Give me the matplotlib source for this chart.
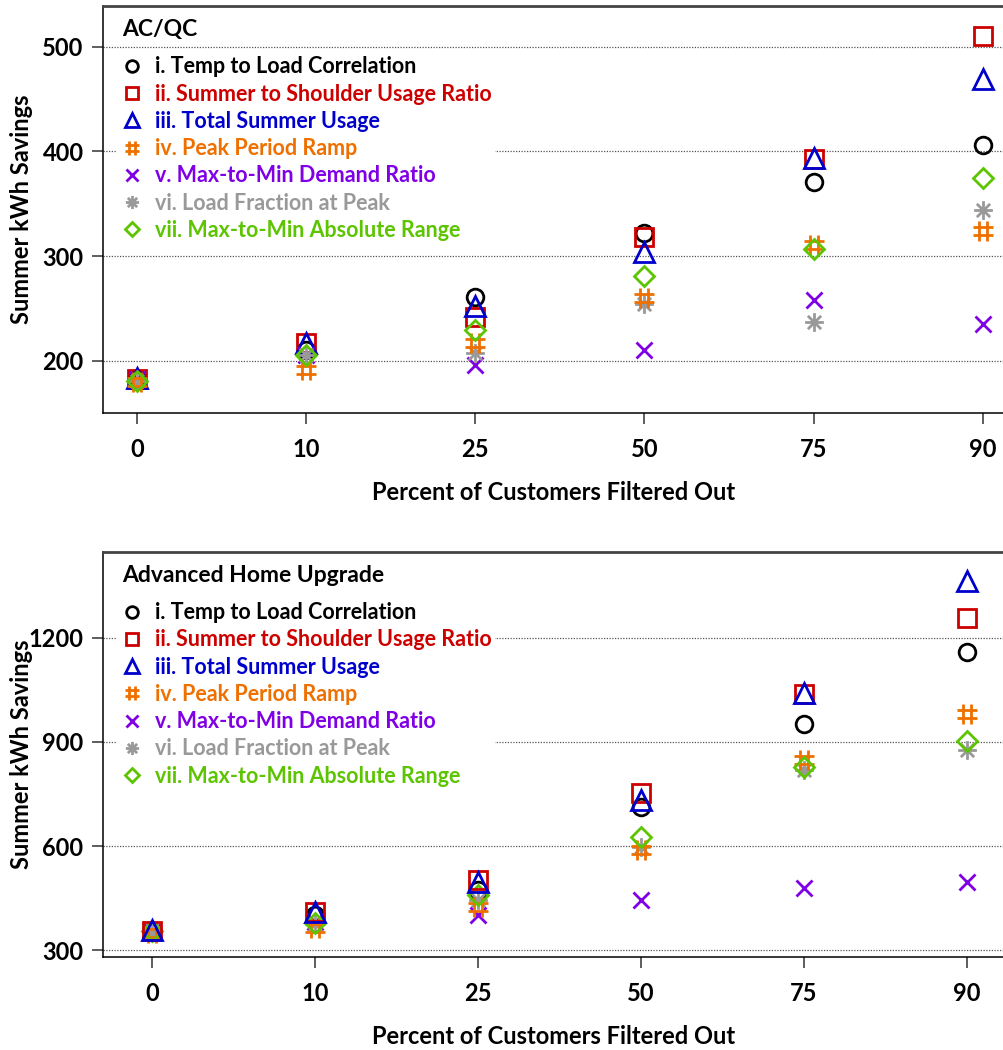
import numpy as np
import matplotlib
matplotlib.use('Agg')
import matplotlib.pyplot as plt
from matplotlib.path import Path

plt.rcParams['font.family'] = ['Lato', 'DejaVu Sans']
plt.rcParams['font.weight'] = 'bold'
plt.rcParams['axes.labelweight'] = 'bold'

# categories on the x axis
pct_labels = ['0', '10', '25', '50', '75', '90']

series_names = ['i. Temp to Load Correlation',
                'ii. Summer to Shoulder Usage Ratio',
                'iii. Total Summer Usage',
                'iv. Peak Period Ramp',
                'v. Max-to-Min Demand Ratio',
                'vi. Load Fraction at Peak',
                'vii. Max-to-Min Absolute Range']

# AC/QC  (summer kWh savings)
acqc_i = [182, 210, 261, 322, 371, 406]
acqc_ii = [182, 217, 242, 318, 393, 510]
acqc_iii = [183, 217, 252, 304, 394, 469]
acqc_iv = [180, 191, 217, 260, 311, 324]
acqc_v = [182, 205, 196, 210, 258, 235]
acqc_vi = [181, 205, 207, 254, 237, 344]
acqc_vii = [181, 205, 229, 281, 307, 375]

# Advanced Home Upgrade
ahu_i = [352, 400, 473, 712, 952, 1160]
ahu_ii = [355, 410, 502, 753, 1038, 1258]
ahu_iii = [358, 410, 496, 733, 1041, 1365]
ahu_iv = [350, 363, 424, 588, 848, 981]
ahu_v = [352, 380, 401, 444, 479, 496]
ahu_vi = [352, 375, 444, 597, 819, 877]
ahu_vii = [354, 378, 459, 626, 828, 903]

colors = ['black', '#cd0000', '#0000cd', '#ee7000', '#8000e6', '#999999', '#5cc400']

# hash (#) and asterisk markers like R's pch 35 / pch 8
hash_path = Path([(-0.22, -0.5), (-0.22, 0.5), (0.22, -0.5), (0.22, 0.5),
                  (-0.5, -0.2), (0.5, -0.2), (-0.5, 0.2), (0.5, 0.2)],
                 [Path.MOVETO, Path.LINETO] * 4)
d = 0.5 / np.sqrt(2)
star_path = Path([(0, -0.5), (0, 0.5), (-0.5, 0), (0.5, 0),
                  (-d, -d), (d, d), (-d, d), (d, -d)],
                 [Path.MOVETO, Path.LINETO] * 4)

markers = ['o', 's', '^', hash_path, 'x', star_path, 'D']
msizes = [12, 12.5, 15, 14, 11.5, 13.5, 10]

fig = plt.figure(figsize=(10.04, 10.5), dpi=100)


def panel(ax, data, order, title, ylim, yticks, xlim):
    handles = [None] * 7
    x = np.arange(len(pct_labels))
    for z, k in enumerate(order):
        h, = ax.plot(x, data[k], linestyle='none', marker=markers[k],
                     ms=msizes[k], mfc='none', mec=colors[k], mew=2.0,
                     zorder=3 + z)
        handles[k] = h
    ax.set_xlim(*xlim)
    ax.set_ylim(*ylim)
    ax.set_xticks(x)
    ax.set_xticklabels(pct_labels, fontweight='bold')
    ax.set_yticks(yticks)
    ax.set_yticklabels([str(t) for t in yticks], fontweight='bold')
    for t in yticks:
        ax.axhline(t, color='#555555', lw=0.9, ls=(0, (1, 1.2)), zorder=1)
    ax.spines['right'].set_visible(False)
    ax.spines['top'].set_color('#444444')
    ax.spines['top'].set_linewidth(2)
    ax.spines['left'].set_linewidth(1.1)
    ax.spines['bottom'].set_linewidth(1.1)
    ax.tick_params(axis='both', length=8, width=1.1, color='#333333',
                   labelsize=17)
    ax.tick_params(axis='x', pad=10)
    ax.tick_params(axis='y', pad=6)
    ax.set_ylabel('Summer kWh Savings', fontsize=17, fontweight='bold')
    ax.set_xlabel('Percent of Customers Filtered Out', fontsize=17,
                  fontweight='bold')
    ax.yaxis.set_label_coords(-0.078, 0.5)
    ax.xaxis.set_label_coords(0.5, -0.168)
    ax.text(0.021, 0.943, title, transform=ax.transAxes, fontsize=16.5,
            fontweight='bold', ha='left', va='center')
    leg = ax.legend(handles, series_names, loc='upper left',
                    bbox_to_anchor=(0.014, 0.884), frameon=True,
                    facecolor='white', edgecolor='none', framealpha=1,
                    prop={'size': 15.5, 'weight': 'bold'}, markerscale=0.7,
                    handlelength=1.2, handletextpad=0.5, labelspacing=0.29,
                    borderpad=0.15, borderaxespad=0)
    leg.set_zorder(20)
    for txt, c in zip(leg.get_texts(), colors):
        txt.set_color(c)
    return ax


ax1 = fig.add_axes([0.1026, 0.6067, 0.8974, 0.3876])
panel(ax1, [acqc_i, acqc_ii, acqc_iii, acqc_iv, acqc_v, acqc_vi, acqc_vii],
      [0, 1, 2, 4, 5, 3, 6], 'AC/QC', (150, 539), [200, 300, 400, 500],
      (-0.2, 5.125))

ax2 = fig.add_axes([0.1026, 0.0886, 0.8974, 0.3857])
panel(ax2, [ahu_i, ahu_ii, ahu_iii, ahu_iv, ahu_v, ahu_vi, ahu_vii],
      [0, 4, 5, 3, 6, 1, 2], 'Advanced Home Upgrade', (280, 1448),
      [300, 600, 900, 1200], (-0.30, 5.228))

fig.savefig('out.png', dpi=100)
